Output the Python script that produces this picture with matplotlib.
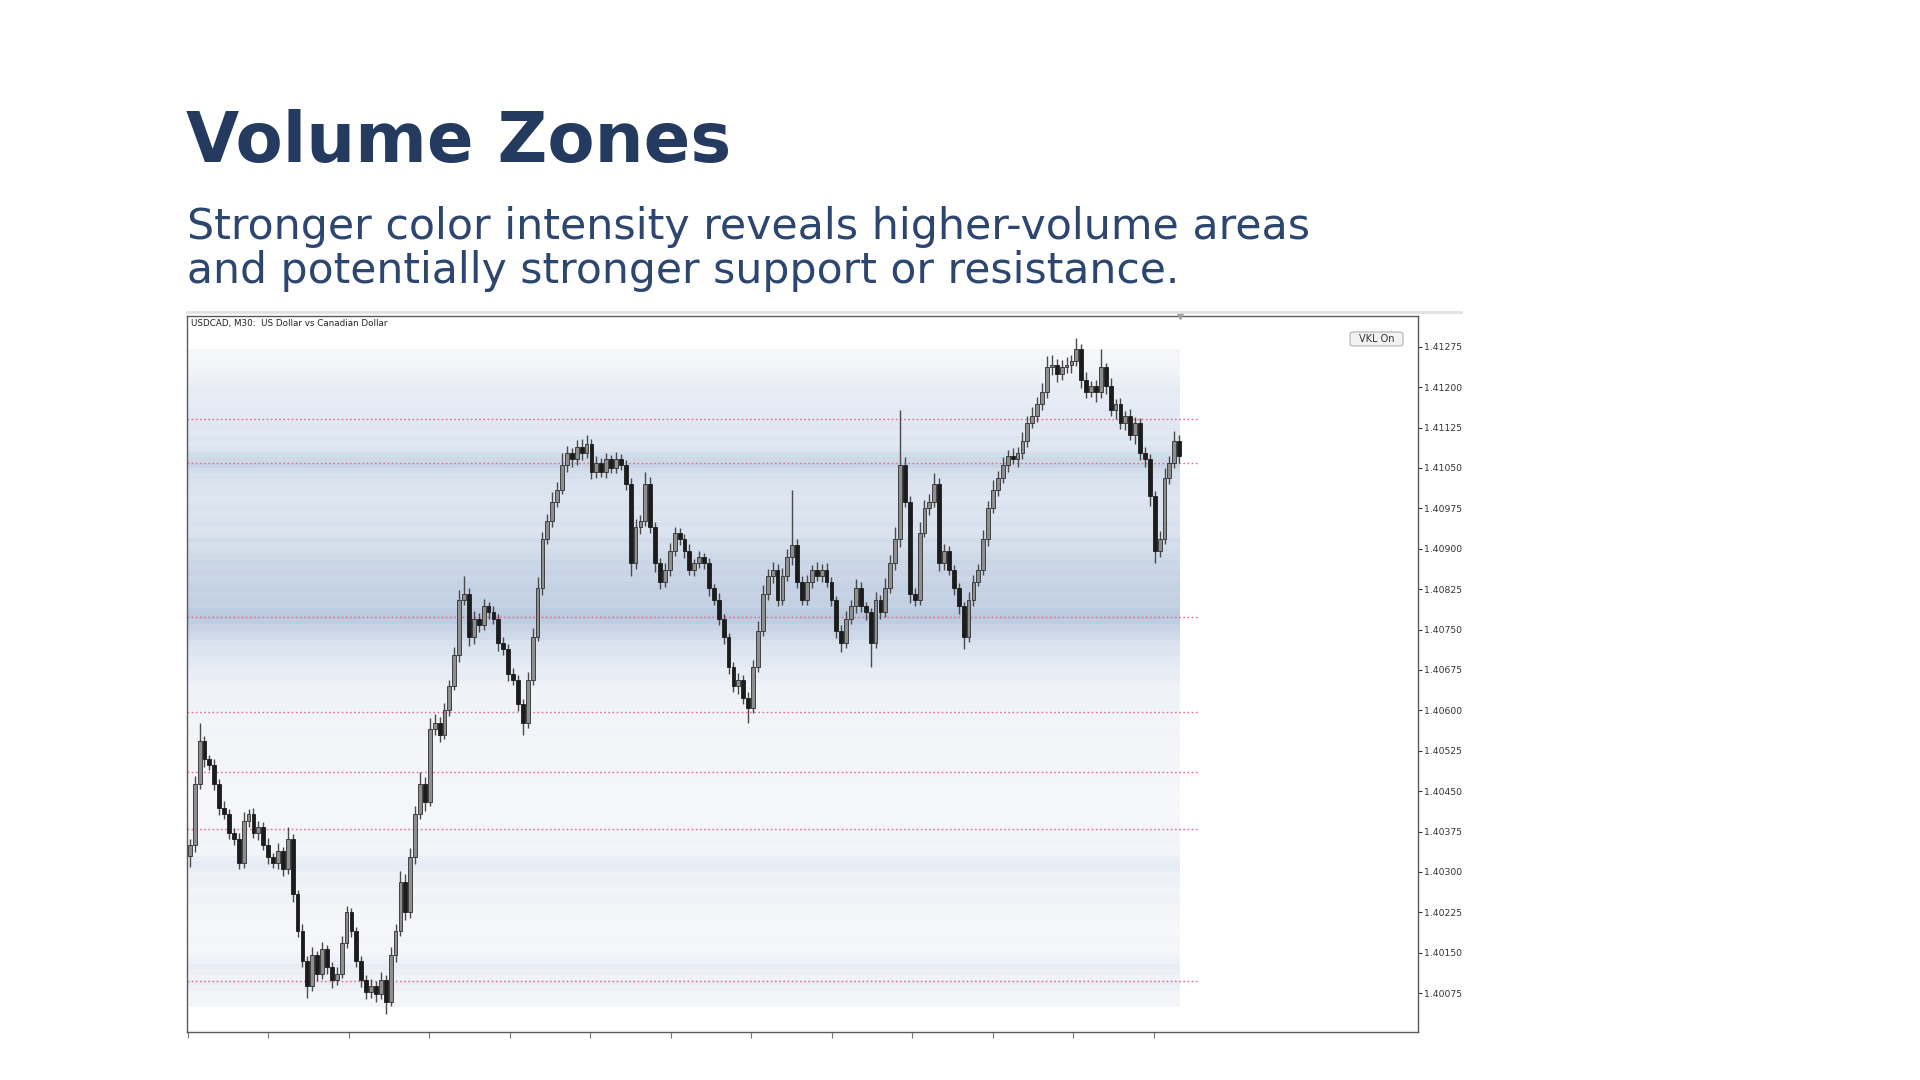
import numpy as np
import matplotlib.pyplot as plt
from matplotlib.colors import LinearSegmentedColormap
from matplotlib.lines import Line2D
from matplotlib.patches import FancyBboxPatch

# --- data (prices in points above 1.40000, 1 point = 0.00001) ---
closes = [350, 464, 543, 509, 498, 464, 418, 407, 373, 361,
          316, 395, 407, 373, 384, 350, 327, 316, 339, 305,
          361, 259, 191, 134, 89, 145, 111, 157, 123, 100,
          111, 168, 225, 191, 134, 100, 77, 89, 73, 100,
          59, 145, 191, 282, 225, 327, 407, 464, 430, 566,
          577, 555, 600, 645, 702, 805, 816, 736, 770, 759,
          793, 782, 770, 725, 714, 668, 657, 611, 577, 657,
          736, 827, 918, 952, 987, 1009, 1055, 1077, 1066, 1089,
          1077, 1095, 1043, 1059, 1043, 1066, 1050, 1066, 1055, 1021,
          873, 941, 952, 1021, 941, 873, 839, 861, 896, 930,
          918, 896, 861, 873, 884, 873, 827, 805, 770, 736,
          680, 645, 657, 623, 605, 680, 748, 816, 850, 861,
          805, 850, 884, 907, 839, 805, 839, 861, 850, 861,
          839, 805, 748, 725, 770, 793, 827, 793, 782, 725,
          805, 782, 827, 873, 918, 1055, 987, 816, 805, 930,
          975, 987, 1021, 873, 896, 861, 827, 793, 736, 805,
          839, 861, 918, 975, 1009, 1032, 1055, 1073, 1066, 1077,
          1100, 1134, 1146, 1168, 1191, 1237, 1241, 1225, 1237, 1241,
          1248, 1271, 1214, 1191, 1202, 1191, 1237, 1202, 1157, 1168,
          1134, 1146, 1111, 1134, 1077, 1066, 998, 896, 918, 1032,
          1059, 1100, 1073]
first_open = 330

wick_up = [12, 15, 34, 10, 8, 12, 9, 14, 10, 8,
           11, 16, 9, 12, 10, 8, 13, 9, 14, 7,
           23, 9, 8, 12, 10, 15, 9, 13, 8, 10,
           12, 14, 11, 9, 7, 10, 8, 12, 9, 14,
           8, 16, 12, 20, 14, 18, 15, 22, 12, 20,
           16, 10, 14, 12, 16, 18, 34, 12, 15, 10,
           13, 9, 11, 8, 12, 9, 10, 8, 11, 14,
           16, 20, 14, 12, 18, 15, 22, 14, 10, 12,
           15, 16, 9, 14, 10, 12, 8, 13, 10, 9,
           11, 14, 10, 22, 12, 9, 10, 13, 15, 11,
           9, 10, 12, 8, 11, 9, 10, 8, 12, 9,
           8, 10, 12, 9, 11, 14, 18, 16, 12, 15,
           10, 14, 16, 102, 12, 10, 13, 9, 14, 10,
           12, 9, 8, 10, 14, 12, 16, 11, 9, 8,
           14, 10, 18, 16, 22, 102, 15, 10, 12, 20,
           16, 14, 19, 10, 12, 9, 8, 10, 9, 14,
           12, 10, 16, 14, 18, 12, 15, 10, 14, 12,
           16, 12, 18, 14, 16, 20, 18, 12, 14, 15,
           12, 20, 9, 14, 10, 12, 34, 8, 14, 10,
           12, 9, 14, 10, 8, 12, 10, 9, 15, 18,
           14, 18, 12]

wick_dn = [20, 12, 10, 14, 9, 11, 13, 9, 12, 10,
           11, 8, 12, 9, 14, 10, 12, 9, 11, 13,
           8, 14, 12, 10, 23, 9, 14, 10, 12, 15,
           9, 8, 10, 12, 11, 14, 12, 10, 15, 9,
           23, 8, 12, 9, 14, 10, 12, 9, 16, 8,
           12, 14, 9, 10, 8, 12, 10, 16, 12, 14,
           10, 12, 9, 14, 11, 13, 10, 12, 22, 9,
           10, 8, 12, 9, 11, 10, 8, 12, 14, 10,
           12, 9, 14, 11, 10, 12, 9, 10, 8, 12,
           23, 10, 14, 9, 12, 16, 14, 10, 12, 9,
           11, 13, 10, 12, 9, 11, 14, 10, 12, 13,
           12, 10, 14, 12, 28, 9, 8, 10, 12, 14,
           12, 9, 10, 14, 12, 10, 9, 12, 10, 11,
           10, 12, 14, 16, 10, 9, 12, 10, 14, 45,
           10, 12, 9, 10, 12, 14, 10, 16, 12, 10,
           9, 12, 10, 14, 12, 10, 12, 14, 22, 10,
           12, 9, 10, 12, 9, 11, 10, 12, 9, 14,
           10, 12, 9, 11, 10, 12, 14, 16, 12, 10,
           14, 9, 16, 12, 10, 18, 12, 14, 10, 16,
           12, 14, 10, 16, 12, 14, 18, 23, 12, 10,
           12, 9, 14]

# volume profile, one value per 0.0001 price bin starting at 1.40050
vol_start = 1.40050
vol_step = 0.0001
volume = [0.06, 0.08, 0.05, 0.16, 0.22, 0.14, 0.18, 0.24, 0.15, 0.10,
          0.05, 0.04, 0.06, 0.03, 0.05, 0.04, 0.07, 0.05, 0.08, 0.12,
          0.14, 0.10, 0.13, 0.17, 0.14, 0.22, 0.26, 0.18, 0.10, 0.08,
          0.12, 0.09, 0.11, 0.07, 0.05, 0.04, 0.03, 0.05, 0.04, 0.03,
          0.05, 0.04, 0.06, 0.05, 0.07, 0.06, 0.05, 0.08, 0.07, 0.06,
          0.09, 0.11, 0.08, 0.12, 0.10, 0.13, 0.11, 0.14, 0.12, 0.15,
          0.20, 0.24, 0.22, 0.30, 0.34, 0.40, 0.38, 0.45, 0.55, 0.60,
          0.66, 0.80, 0.88, 0.82, 0.70, 0.74, 0.66, 0.72, 0.68, 0.62,
          0.66, 0.60, 0.64, 0.57, 0.52, 0.48, 0.54, 0.44, 0.40, 0.46,
          0.42, 0.38, 0.44, 0.40, 0.36, 0.42, 0.39, 0.44, 0.48, 0.52,
          0.65, 0.58, 0.52, 0.40, 0.34, 0.38, 0.32, 0.36, 0.33, 0.30,
          0.32, 0.28, 0.26, 0.24, 0.27, 0.20, 0.16, 0.13, 0.10, 0.06,
          0.05, 0.04]

# key levels (red dotted lines)
levels = [1.41141, 1.41059, 1.40773, 1.40597, 1.40486, 1.40380, 1.40098]

yticks = [1.40075, 1.40150, 1.40225, 1.40300, 1.40375, 1.40450, 1.40525,
          1.40600, 1.40675, 1.40750, 1.40825, 1.40900, 1.40975, 1.41050,
          1.41125, 1.41200, 1.41275]

# --- derived OHLC ---
c = 1.4 + np.array(closes) / 1e5
o = np.concatenate([[1.4 + first_open / 1e5], c[:-1]])
hi = np.maximum(o, c) + np.array(wick_up) / 1e5
lo = np.minimum(o, c) - np.array(wick_dn) / 1e5
x = np.arange(len(c))

W, H = 1920, 1080
fig = plt.figure(figsize=(19.2, 10.8), dpi=100)
fig.patch.set_facecolor("white")

# pixel geometry of the chart frame
left_px, right_px, top_px, bot_px = 187, 1418, 316, 1032
ax = fig.add_axes([left_px / W, 1 - bot_px / H,
                   (right_px - left_px) / W, (bot_px - top_px) / H])

px_per_bar = 4.898
x0_px = 189.8
xl = (left_px - x0_px) / px_per_bar
xr = (right_px - x0_px) / px_per_bar
ax.set_xlim(xl, xr)
ax.set_ylim(1.40003, 1.41332)

# volume zones
cmap = LinearSegmentedColormap.from_list(
    "vz", ["#f8f8fa", "#e7edf5", "#d4deeb", "#c1cfe2", "#b2c3db"])
band_right = (1180 - x0_px) / px_per_bar
bins = vol_start + vol_step * np.arange(len(volume))
ax.barh(bins, band_right - xl, left=xl, height=vol_step, align="edge",
        color=cmap(np.array(volume)), linewidth=0, zorder=0)

# key levels
line_end = (1199 - x0_px) / px_per_bar
ax.hlines(levels, xl, line_end, colors="#e46a8e", linestyles=(0, (1.2, 1.8)),
          linewidth=1.0, zorder=1)

# candles
up = c >= o
ax.vlines(x, lo, hi, color="#4a4a4a", linewidth=1.0, zorder=2)
body_h = np.maximum(np.abs(c - o), 2e-6)
body_b = np.minimum(o, c)
ax.bar(x[up], body_h[up], bottom=body_b[up], width=0.78, color="#8e8e8e",
       edgecolor="#2e2e2e", linewidth=0.6, zorder=3)
ax.bar(x[~up], body_h[~up], bottom=body_b[~up], width=0.78, color="#1c1c1c",
       edgecolor="#1c1c1c", linewidth=0.6, zorder=3)

# axes styling
for s in ax.spines.values():
    s.set_color("#5a5a5a")
    s.set_linewidth(1.0)
ax.yaxis.tick_right()
ax.set_yticks(yticks)
ax.set_yticklabels([f"{v:.5f}" for v in yticks])
ax.tick_params(axis="y", direction="out", length=3, width=0.8, colors="#333333",
               labelsize=6.7, pad=1)
ax.set_xticks(-0.37 + 16.43 * np.arange(13))
ax.set_xticklabels([])
ax.tick_params(axis="x", direction="out", length=4, width=0.8, colors="#777777")

ax.text(0.003, 0.990, "USDCAD, M30:  US Dollar vs Canadian Dollar",
        transform=ax.transAxes, fontsize=6.3, color="#222222", va="center")
ax.plot([band_right], [1.41332], marker="v", markersize=5, color="#a0a0a0",
        clip_on=False, zorder=5)

# VKL button
fig.add_artist(FancyBboxPatch((1350 / W, 1 - 346 / H), 53 / W, 14 / H,
                              boxstyle="round,pad=0,rounding_size=0.002",
                              transform=fig.transFigure, facecolor="#f2f2f2",
                              edgecolor="#b0b0b0", linewidth=0.8))
fig.text(1376.5 / W, 1 - 339 / H, "VKL On", fontsize=7, color="#333333",
         ha="center", va="center")

# strip above chart
fig.add_artist(Line2D([187 / W, 1461 / W], [1 - 312 / H] * 2,
                      color="#e2e2e2", linewidth=2))

# headings, fitted to the width they take in the slide
renderer = fig.canvas.get_renderer()


def fit_text(xp, yp, s, target_w, **kw):
    t = fig.text(xp / W, 1 - yp / H, s, va="baseline", **kw)
    w = t.get_window_extent(renderer).width
    t.set_fontsize(t.get_fontsize() * target_w / w)
    return t


fit_text(186, 162, "Volume Zones", 546, fontsize=50, fontweight="bold",
         color="#243b5f")
fit_text(187, 239, "Stronger color intensity reveals higher-volume areas",
         1120, fontsize=30, color="#2c4670")
fit_text(187, 283, "and potentially stronger support or resistance.",
         990, fontsize=30, color="#2c4670")

fig.savefig("out.png", dpi=100)
